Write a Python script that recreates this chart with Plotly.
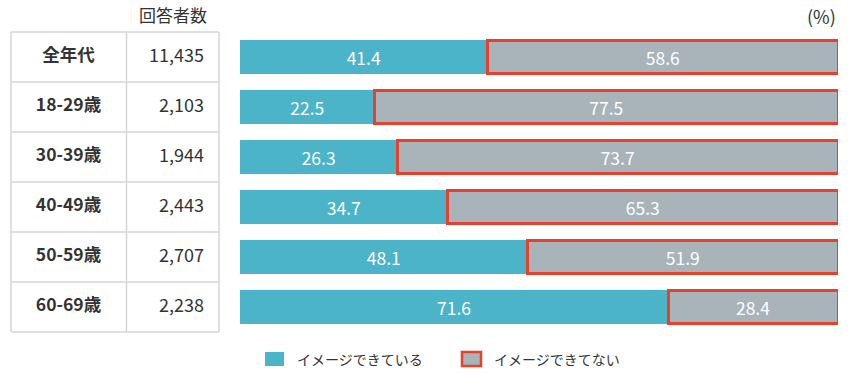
import plotly.graph_objects as go

# ---- data ----
ages = ["全年代", "18-29歳", "30-39歳", "40-49歳", "50-59歳", "60-69歳"]
respondents = ["11,435", "2,103", "1,944", "2,443", "2,707", "2,238"]
can_imagine = [41.4, 22.5, 26.3, 34.7, 48.1, 71.6]
cannot_imagine = [58.6, 77.5, 73.7, 65.3, 51.9, 28.4]
series_names = ["イメージできている", "イメージできてない"]
header_label = "回答者数"
unit_label = "(%)"

# ---- style ----
W, H = 850, 373
FONT = "Noto Sans CJK JP"
TEAL = "#4bb4c9"
GRAY = "#a8b3ba"
RED = "#e8402e"
LINE = "#d6d6d6"
TXT = "#333333"

fig = go.Figure()

fig.add_trace(go.Bar(
    y=ages, x=can_imagine, orientation="h", name=series_names[0],
    marker=dict(color=TEAL, line=dict(width=0)),
    text=[f"{v:.1f}" for v in can_imagine], textposition="inside",
    insidetextanchor="middle", textangle=0,
    textfont=dict(color="white", size=17.5, family=FONT),
    width=0.67, xaxis="x", yaxis="y", showlegend=False,
))
fig.add_trace(go.Bar(
    y=ages, x=cannot_imagine, orientation="h", name=series_names[1],
    marker=dict(color=GRAY, line=dict(width=3, color=RED)),
    text=[f"{v:.1f}" for v in cannot_imagine], textposition="inside",
    insidetextanchor="middle", textangle=0,
    textfont=dict(color="white", size=17.5, family=FONT),
    width=0.67, xaxis="x", yaxis="y", showlegend=False,
))

# table text via a text scatter on the table axis
fig.add_trace(go.Scatter(
    x=[68.5] * len(ages), y=ages, mode="text",
    text=[f"<b>{a}</b>" for a in ages], textposition="middle center",
    textfont=dict(size=17.5, color=TXT, family=FONT),
    xaxis="x2", yaxis="y", showlegend=False, hoverinfo="skip",
))
fig.add_trace(go.Scatter(
    x=[204] * len(ages), y=ages, mode="text",
    text=respondents, textposition="middle left",
    textfont=dict(size=18, color=TXT, family=FONT),
    xaxis="x2", yaxis="y", showlegend=False, hoverinfo="skip",
))

shapes = []
n = len(ages)
# table grid
for k in range(n + 1):
    shapes.append(dict(type="line", xref="x2", yref="y", x0=11, x1=219,
                       y0=k - 0.5, y1=k - 0.5, line=dict(color=LINE, width=1.5)))
for xv in (11, 126.5, 219):
    shapes.append(dict(type="line", xref="x2", yref="y", x0=xv, x1=xv,
                       y0=-0.5, y1=n - 0.5, line=dict(color=LINE, width=1.5)))

# legend (manual)
def py(p):
    return 1 - p / H

shapes.append(dict(type="rect", xref="paper", yref="paper",
                   x0=265 / W, x1=284 / W, y0=py(366), y1=py(352),
                   fillcolor=TEAL, line=dict(width=0)))
shapes.append(dict(type="rect", xref="paper", yref="paper",
                   x0=462 / W, x1=481 / W, y0=py(366), y1=py(352),
                   fillcolor=GRAY, line=dict(width=2.5, color=RED)))

annotations = [
    dict(text=series_names[0], xref="paper", yref="paper", x=295 / W, y=py(359),
         xanchor="left", yanchor="middle", showarrow=False,
         font=dict(size=14, color=TXT, family=FONT)),
    dict(text=series_names[1], xref="paper", yref="paper", x=492 / W, y=py(359),
         xanchor="left", yanchor="middle", showarrow=False,
         font=dict(size=14, color=TXT, family=FONT)),
    dict(text=header_label, xref="paper", yref="paper", x=173 / W, y=py(14),
         xanchor="center", yanchor="middle", showarrow=False,
         font=dict(size=17, color=TXT, family=FONT)),
    dict(text=unit_label, xref="paper", yref="paper", x=838 / W, y=py(16),
         xanchor="right", yanchor="middle", showarrow=False,
         font=dict(size=18, color=TXT, family=FONT)),
]

fig.update_layout(
    width=W, height=H,
    margin=dict(l=0, r=0, t=0, b=0),
    paper_bgcolor="white", plot_bgcolor="white",
    barmode="stack", bargap=0.33,
    hovermode=False,
    xaxis=dict(domain=[240 / W, 838 / W], range=[0, 100], visible=False, fixedrange=True),
    xaxis2=dict(domain=[0, 240 / W], range=[0, 240], visible=False, fixedrange=True,
                anchor="y"),
    yaxis=dict(type="category", categoryorder="array", categoryarray=ages,
               range=[6.32, -1.14], visible=False, fixedrange=True),
    shapes=shapes, annotations=annotations,
    font=dict(family=FONT, color=TXT),
)

fig.write_html(
    "out.html",
    config={"displayModeBar": False},
    post_script="document.body.style.margin='0';document.body.style.overflow='hidden';",
)
